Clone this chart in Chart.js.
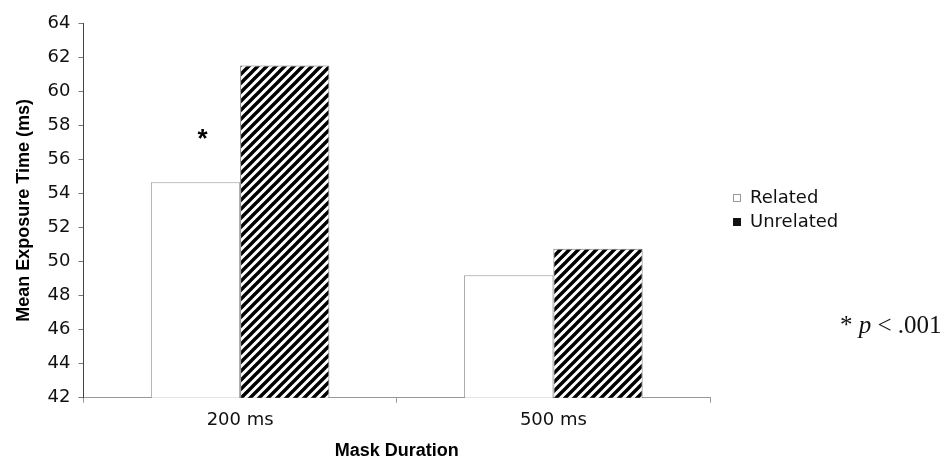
<!DOCTYPE html>
<html>
<head>
<meta charset="utf-8">
<script src="https://cdn.jsdelivr.net/npm/chart.js@4/dist/chart.umd.min.js"></script>
<style>
  html, body { margin: 0; padding: 0; background: #fff; }
  #wrap { width: 946px; height: 462px; position: relative; }
</style>
</head>
<body>
<div id="wrap"><canvas id="exposureChart"></canvas></div>
<script>
const categories = ["200 ms", "500 ms"];
const seriesLabels = ["Related", "Unrelated"];
const relatedValues = [54.65, 49.2];
const unrelatedValues = [61.5, 50.75];
const yMin = 42;
const yMax = 64;
const yStep = 2;
const starValue = 57.4;
const noteText = ["* ", "p", " < .001"];

function hatchPattern() {
  const size = 9;
  const c = document.createElement("canvas");
  c.width = size;
  c.height = size;
  const g = c.getContext("2d");
  g.fillStyle = "#fff";
  g.fillRect(0, 0, size, size);
  g.strokeStyle = "#000";
  g.lineWidth = 3.4;
  g.beginPath();
  g.moveTo(0, size); g.lineTo(size, 0);
  g.moveTo(-size / 2, size / 2); g.lineTo(size / 2, -size / 2);
  g.moveTo(size / 2, size + size / 2); g.lineTo(size + size / 2, size / 2);
  g.stroke();
  return g.createPattern(c, "repeat");
}

(function () {
  const canvas = document.getElementById("exposureChart");
  const ctx = canvas.getContext("2d");
  const hatch = hatchPattern();

  const extras = {
    id: "extras",
    afterDraw(chart) {
      const c = chart.ctx;
      const area = chart.chartArea;
      const y = chart.scales.y;
      const bar = chart.getDatasetMeta(0).data[0];
      c.save();
      // significance star over the 200 ms pair
      c.fillStyle = "#000";
      c.font = "bold 26px 'Liberation Sans'";
      c.textAlign = "center";
      c.textBaseline = "middle";
      c.fillText("*", bar.x + 7, y.getPixelForValue(starValue) + 4);

      // legend
      const lx = area.right + 23;
      const ly = area.top + 175;
      c.textAlign = "left";
      c.font = "18px 'DejaVu Sans'";
      seriesLabels.forEach((label, i) => {
        const yy = ly + i * 24;
        if (i === 0) {
          c.fillStyle = "#fff";
          c.fillRect(lx, yy - 4, 8, 8);
          c.strokeStyle = "#999";
          c.lineWidth = 1;
          c.strokeRect(lx + 0.5, yy - 3.5, 7, 7);
        } else {
          c.fillStyle = "#111";
          c.fillRect(lx, yy - 4, 8, 8);
        }
        c.fillStyle = "#111";
        c.fillText(label, lx + 17, yy);
      });

      // p note
      c.textBaseline = "alphabetic";
      let nx = area.right + 130;
      const ny = y.getPixelForValue(45.8);
      noteText.forEach((part, i) => {
        c.font = (i === 1 ? "italic " : "") + "25px 'Liberation Serif'";
        c.fillText(part, nx, ny);
        nx += c.measureText(part).width;
      });
      c.restore();
    }
  };

  new Chart(ctx, {
    type: "bar",
    data: {
      labels: categories,
      datasets: [
        {
          label: seriesLabels[0],
          data: relatedValues,
          backgroundColor: "#fff",
          borderColor: "#9a9a9a",
          borderWidth: 1,
          categoryPercentage: 0.57,
          barPercentage: 1.0
        },
        {
          label: seriesLabels[1],
          data: unrelatedValues,
          backgroundColor: hatch,
          borderColor: "#777",
          borderWidth: 1,
          categoryPercentage: 0.57,
          barPercentage: 1.0
        }
      ]
    },
    options: {
      responsive: true,
      maintainAspectRatio: false,
      animation: false,
      layout: { padding: { left: 6, right: 236, top: 23, bottom: 0 } },
      plugins: {
        legend: { display: false },
        tooltip: { enabled: false }
      },
      scales: {
        x: {
          grid: {
            display: true,
            drawOnChartArea: false,
            drawTicks: true,
            tickLength: 5,
            color: "#999"
          },
          border: { display: true, color: "#999" },
          ticks: {
            color: "#111",
            padding: 7,
            font: { family: "'DejaVu Sans'", size: 18 }
          },
          title: {
            display: true,
            text: "Mask Duration",
            color: "#000",
            padding: { top: 2, bottom: 0 },
            font: { family: "'Liberation Sans'", size: 18, weight: "bold" }
          }
        },
        y: {
          min: yMin,
          max: yMax,
          grid: {
            display: true,
            drawOnChartArea: false,
            drawTicks: true,
            tickLength: 5,
            color: "#777"
          },
          border: { display: true, color: "#444" },
          ticks: {
            stepSize: yStep,
            color: "#111",
            padding: 8,
            font: { family: "'DejaVu Sans'", size: 18 }
          },
          title: {
            display: true,
            text: "Mean Exposure Time (ms)",
            color: "#000",
            padding: { top: 7, bottom: 5 },
            font: { family: "'Liberation Sans'", size: 18, weight: "bold" }
          }
        }
      }
    },
    plugins: [extras]
  });
})();
</script>
</body>
</html>
